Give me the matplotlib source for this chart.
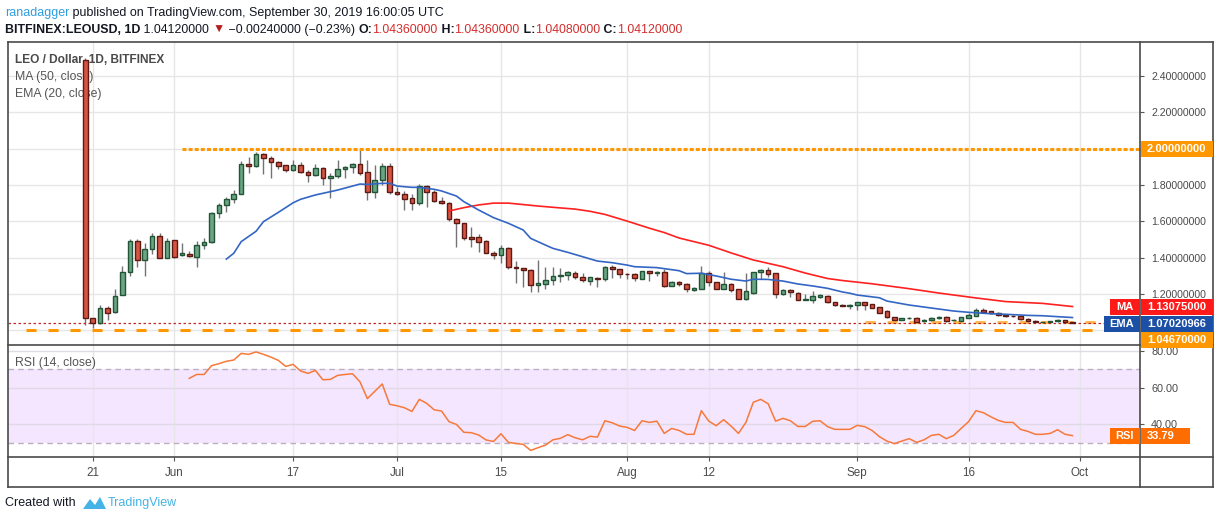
import numpy as np
import pandas as pd
import matplotlib
matplotlib.use('Agg')
import matplotlib.pyplot as plt
from matplotlib.patches import Rectangle, Polygon
from matplotlib.lines import Line2D

plt.rcParams['font.family'] = ['Liberation Sans', 'DejaVu Sans']

# daily candles LEO/USD, Bitfinex, 2019-05-20 .. 2019-09-30
start = '2019-05-20'
dates = pd.date_range(start, '2019-09-30', freq='D')

opens = [2.49, 1.066, 1.04, 1.12, 1.10, 1.195, 1.32, 1.49, 1.385, 1.45,
         1.52, 1.40, 1.495, 1.413, 1.42, 1.405, 1.468, 1.484, 1.644, 1.69,
         1.72, 1.75, 1.914, 1.907, 1.969, 1.947, 1.928, 1.91, 1.88, 1.908,
         1.87, 1.853, 1.892, 1.836, 1.847, 1.886, 1.897, 1.914, 1.869, 1.764,
         1.825, 1.902, 1.759, 1.748, 1.726, 1.699, 1.792, 1.764, 1.711, 1.70,
         1.611, 1.589, 1.512, 1.512, 1.49, 1.424, 1.413, 1.451, 1.349, 1.341,
         1.33, 1.248, 1.253, 1.275, 1.297, 1.302, 1.313, 1.293, 1.273, 1.288,
         1.284, 1.346, 1.335, 1.312, 1.308, 1.284, 1.324, 1.316, 1.32, 1.246,
         1.266, 1.253, 1.224, 1.229, 1.316, 1.264, 1.229, 1.253, 1.226, 1.171,
         1.204, 1.319, 1.33, 1.314, 1.20, 1.222, 1.204, 1.166, 1.169, 1.185,
         1.187, 1.154, 1.139, 1.134, 1.137, 1.154, 1.143, 1.128, 1.106, 1.071,
         1.058, 1.066, 1.068, 1.05, 1.055, 1.065, 1.073, 1.054, 1.052, 1.07,
         1.08, 1.112, 1.106, 1.095, 1.086, 1.079, 1.079, 1.062, 1.051, 1.045,
         1.043, 1.049, 1.056, 1.0436]
highs = [2.50, 1.066, 1.14, 1.135, 1.227, 1.354, 1.50, 1.50, 1.48, 1.537,
         1.537, 1.506, 1.497, 1.48, 1.436, 1.493, 1.51, 1.65, 1.70, 1.735,
         1.77, 1.93, 1.955, 1.983, 1.975, 1.96, 1.93, 1.912, 1.94, 1.926,
         1.882, 1.915, 1.90, 1.867, 1.94, 1.904, 1.92, 1.996, 1.94, 1.91,
         1.919, 1.919, 1.79, 1.766, 1.753, 1.805, 1.80, 1.772, 1.735, 1.708,
         1.618, 1.592, 1.567, 1.528, 1.497, 1.438, 1.47, 1.46, 1.382, 1.345,
         1.336, 1.387, 1.35, 1.35, 1.343, 1.326, 1.325, 1.317, 1.295, 1.292,
         1.353, 1.36, 1.34, 1.316, 1.314, 1.328, 1.328, 1.326, 1.34, 1.272,
         1.273, 1.259, 1.24, 1.353, 1.328, 1.268, 1.319, 1.26, 1.229, 1.314,
         1.322, 1.336, 1.348, 1.318, 1.227, 1.227, 1.209, 1.20, 1.215, 1.20,
         1.196, 1.156, 1.142, 1.142, 1.156, 1.156, 1.145, 1.13, 1.112, 1.073,
         1.068, 1.074, 1.073, 1.064, 1.072, 1.079, 1.076, 1.063, 1.073, 1.093,
         1.121, 1.125, 1.108, 1.102, 1.089, 1.084, 1.082, 1.07, 1.056, 1.05,
         1.053, 1.06, 1.058, 1.0436]
lows = [1.03, 1.01, 1.035, 1.057, 1.094, 1.195, 1.30, 1.35, 1.30, 1.42,
        1.40, 1.40, 1.40, 1.41, 1.405, 1.35, 1.446, 1.48, 1.62, 1.65,
        1.70, 1.75, 1.867, 1.897, 1.86, 1.84, 1.89, 1.873, 1.875, 1.866,
        1.818, 1.851, 1.80, 1.726, 1.836, 1.84, 1.864, 1.855, 1.717, 1.726,
        1.80, 1.753, 1.745, 1.662, 1.662, 1.69, 1.68, 1.706, 1.694, 1.604,
        1.457, 1.497, 1.46, 1.43, 1.424, 1.394, 1.369, 1.336, 1.262, 1.237,
        1.209, 1.213, 1.228, 1.25, 1.264, 1.277, 1.284, 1.264, 1.25, 1.24,
        1.273, 1.29, 1.29, 1.28, 1.273, 1.283, 1.273, 1.30, 1.24, 1.244,
        1.246, 1.211, 1.215, 1.227, 1.246, 1.227, 1.226, 1.211, 1.17, 1.164,
        1.20, 1.28, 1.295, 1.18, 1.195, 1.185, 1.166, 1.164, 1.152, 1.176,
        1.152, 1.135, 1.132, 1.117, 1.112, 1.11, 1.123, 1.095, 1.07, 1.056,
        1.056, 1.064, 1.044, 1.048, 1.052, 1.062, 1.046, 1.046, 1.05, 1.068,
        1.078, 1.10, 1.091, 1.08, 1.075, 1.074, 1.058, 1.045, 1.04, 1.04,
        1.041, 1.047, 1.042, 1.0408]
closes = [1.066, 1.04, 1.12, 1.095, 1.19, 1.32, 1.49, 1.385, 1.45, 1.52,
          1.40, 1.49, 1.405, 1.425, 1.407, 1.468, 1.484, 1.644, 1.69, 1.72,
          1.75, 1.914, 1.907, 1.969, 1.947, 1.928, 1.906, 1.88, 1.908, 1.87,
          1.853, 1.892, 1.837, 1.847, 1.886, 1.897, 1.914, 1.867, 1.764, 1.825,
          1.902, 1.759, 1.748, 1.724, 1.699, 1.792, 1.763, 1.709, 1.702, 1.611,
          1.589, 1.506, 1.505, 1.488, 1.427, 1.413, 1.451, 1.347, 1.341, 1.33,
          1.248, 1.259, 1.275, 1.297, 1.304, 1.319, 1.291, 1.275, 1.291, 1.284,
          1.346, 1.335, 1.31, 1.308, 1.286, 1.324, 1.314, 1.322, 1.246, 1.264,
          1.253, 1.229, 1.233, 1.316, 1.264, 1.229, 1.253, 1.222, 1.171, 1.215,
          1.319, 1.33, 1.31, 1.202, 1.222, 1.211, 1.169, 1.173, 1.187, 1.194,
          1.154, 1.137, 1.135, 1.138, 1.154, 1.141, 1.125, 1.097, 1.071, 1.058,
          1.066, 1.070, 1.048, 1.058, 1.066, 1.073, 1.053, 1.056, 1.071, 1.084,
          1.112, 1.102, 1.093, 1.082, 1.077, 1.077, 1.06, 1.051, 1.044, 1.047,
          1.051, 1.056, 1.044, 1.0412]

# MA(50) and EMA(20) (day index, value)
ma_days = [49, 51, 53, 55, 57, 59, 61, 63, 66, 68, 70, 73, 76, 78, 80, 84, 87,
           90, 94, 97, 100, 102, 106, 111, 115, 120, 124, 129, 133]
ma_vals = [1.657, 1.675, 1.690, 1.700, 1.700, 1.692, 1.684, 1.677, 1.667, 1.655,
           1.638, 1.601, 1.562, 1.538, 1.508, 1.468, 1.426, 1.387, 1.350, 1.315,
           1.285, 1.274, 1.256, 1.229, 1.205, 1.178, 1.158, 1.148, 1.13075]
ema_days = [19, 20, 21, 23, 24, 26, 28, 29, 31, 34, 36, 37, 38, 40, 41, 42, 44,
            45, 47, 48, 50, 51, 53, 55, 57, 59, 60, 62, 63, 65, 67, 69, 71, 73,
            74, 77, 80, 81, 83, 85, 87, 89, 90, 92, 94, 96, 98, 100, 102, 103,
            104, 107, 108, 111, 113, 115, 117, 119, 122, 124, 127, 129, 131, 133]
ema_vals = [1.392, 1.424, 1.488, 1.545, 1.598, 1.649, 1.702, 1.721, 1.745, 1.772,
            1.794, 1.805, 1.803, 1.809, 1.809, 1.794, 1.787, 1.787, 1.776, 1.767,
            1.739, 1.708, 1.662, 1.620, 1.589, 1.552, 1.506, 1.469, 1.451, 1.429,
            1.405, 1.381, 1.372, 1.359, 1.350, 1.345, 1.328, 1.312, 1.314, 1.299,
            1.281, 1.271, 1.281, 1.280, 1.271, 1.255, 1.244, 1.231, 1.211, 1.204,
            1.194, 1.179, 1.161, 1.139, 1.128, 1.117, 1.106, 1.099, 1.091, 1.088,
            1.082, 1.080, 1.075, 1.07020966]

# RSI(14), first value on day index 14
rsi_vals = [65.1, 67.2, 67.2, 72.0, 73.1, 74.4, 75.1, 78.7, 78.2, 79.5,
            78.2, 76.7, 74.9, 71.6, 72.7, 69.1, 67.8, 69.4, 64.3, 64.5,
            66.7, 67.2, 67.6, 63.2, 54.0, 58.0, 62.0, 50.9, 50.1, 49.0,
            47.0, 53.6, 51.4, 47.9, 47.2, 41.4, 39.9, 35.6, 35.4, 34.1,
            31.4, 30.6, 34.8, 30.1, 29.5, 29.0, 25.7, 27.2, 28.6, 31.5,
            32.3, 34.3, 32.6, 31.5, 33.4, 33.0, 41.9, 40.8, 39.0, 38.3,
            36.6, 41.9, 41.0, 41.7, 35.0, 37.7, 36.6, 34.5, 34.5, 47.4,
            41.7, 39.2, 42.5, 39.0, 35.0, 41.0, 52.0, 53.6, 51.2, 41.7,
            43.2, 41.9, 38.8, 38.8, 41.6, 41.9, 38.7, 37.2, 37.2, 37.2,
            39.4, 38.7, 36.6, 33.2, 30.8, 29.4, 30.8, 32.1, 30.1, 31.5,
            33.9, 34.5, 32.1, 33.9, 37.7, 41.4, 47.4, 46.3, 44.1, 42.1,
            41.0, 41.0, 37.2, 36.1, 34.5, 34.5, 35.0, 37.0, 34.5, 33.79]
rsi_start = 14

tick_dates = ['2019-05-21', '2019-06-01', '2019-06-17', '2019-07-01', '2019-07-15',
              '2019-08-01', '2019-08-12', '2019-09-01', '2019-09-16', '2019-10-01']
tick_labels = ['21', 'Jun', '17', 'Jul', '15', 'Aug', '12', 'Sep', '16', 'Oct']

price_ticks = [1.0, 1.2, 1.4, 1.6, 1.8, 2.0, 2.2, 2.4]
resistance = 2.0
support = 1.0
support2 = 1.0467

W, H = 1218, 521
fig = plt.figure(figsize=(W / 100, H / 100), dpi=100)


def fx(px):
    return px / W


def fy(py):
    return 1 - py / H


ax = fig.add_axes([fx(8), fy(345), fx(1140) - fx(8), fy(42) - fy(345)])
ax2 = fig.add_axes([fx(8), fy(457), fx(1140) - fx(8), fy(345) - fy(457)])

o, h, l, c = map(np.array, (opens, highs, lows, closes))
x = np.arange(len(dates))
day = lambda d: (pd.Timestamp(d) - pd.Timestamp(start)).days
xlo, xhi = -10.42, 142.1
ylo, yhi = 0.919, 2.587

# grid
tpos = [day(d) for d in tick_dates]
for a in (ax, ax2):
    a.set_xlim(xlo, xhi)
    for t in tpos:
        a.axvline(t, color='#e6e6e6', lw=1, zorder=0.3)
    for s in a.spines.values():
        s.set_visible(False)
for p in price_ticks:
    ax.axhline(p, color='#e6e6e6', lw=1, zorder=0.3)
ax.set_ylim(ylo, yhi)

# candles
up = c >= o
ax.vlines(x, l, h, color='#737375', lw=1, zorder=2)
ax.bar(x[up], (c - o)[up], bottom=o[up], width=0.62, color='#6ba583',
       edgecolor='#225437', lw=1, zorder=3)
ax.bar(x[~up], (o - c)[~up], bottom=c[~up], width=0.62, color='#d75442',
       edgecolor='#5b1a13', lw=1, zorder=3)

ax.plot(ma_days, ma_vals, color='#ff2020', lw=1.2, zorder=4)
ax.plot(ema_days, ema_vals, color='#3366c4', lw=1.2, zorder=4)

# drawn levels
ax.hlines(resistance, day('2019-06-02'), xhi, color='#ff9800', lw=2.2,
          linestyles=[(0, (1.3, 0.7))], zorder=2.5)
ax.hlines(support, day('2019-05-12'), xhi, color='#ff9800', lw=2.2,
          linestyles=[(0, (3.3, 3.9))], zorder=2.5)
ax.hlines(support2, day('2019-09-02'), xhi, color='#ffad33', lw=2.2,
          linestyles=[(0, (3.3, 3.9))], zorder=2.5, alpha=0.85)
ax.axhline(c[-1], color='#c62828', lw=0.9, ls=(0, (2, 2)), zorder=2.6)

ax.yaxis.tick_right()
ax.set_yticks(price_ticks)
ax.set_yticklabels(['' if p in (1.0, 2.0) else f'{p:.8f}' for p in price_ticks])
ax.tick_params(axis='y', length=3, pad=5, color='#555555', labelcolor='#4a4a4a',
               labelsize=7.6)
ax.tick_params(axis='x', bottom=False, labelbottom=False)

# legend texts sit under the candles, as on the original
ax.text(7 / 1132, 1 - 18 / 303, 'LEO / Dollar, 1D, BITFINEX', transform=ax.transAxes,
        fontsize=8.6, color='#4a4a4a', va='center', fontweight='bold', zorder=1)
ax.text(7 / 1132, 1 - 35 / 303, 'MA (50, close)', transform=ax.transAxes,
        fontsize=8.8, color='#555555', va='center', zorder=1)
ax.text(7 / 1132, 1 - 52 / 303, 'EMA (20, close)', transform=ax.transAxes,
        fontsize=8.8, color='#555555', va='center', zorder=1)

# RSI pane
rx = np.arange(rsi_start, rsi_start + len(rsi_vals))
ax2.set_ylim(22.1, 83.3)
ax2.fill_between([xlo, xhi], 30, 70, color='#f4e6fe', zorder=0.1, lw=0)
for v in (40, 60, 80):
    ax2.axhline(v, color='#e0dae6', lw=1, zorder=0.3)
for v in (30, 70):
    ax2.axhline(v, color='#b9b0c2', lw=1, ls=(0, (4, 3)), zorder=0.4)
ax2.plot(rx, rsi_vals, color='#f7793a', lw=1.1, zorder=3)
ax2.yaxis.tick_right()
ax2.set_yticks([40, 60, 80])
ax2.set_yticklabels(['40.00', '60.00', '80.00'])
ax2.tick_params(axis='y', length=3, pad=5, color='#555555', labelcolor='#4a4a4a',
                labelsize=7.8)
ax2.set_xticks(tpos)
ax2.set_xticklabels(tick_labels)
ax2.tick_params(axis='x', length=3, pad=4, color='#555555', labelcolor='#4a4a4a',
                labelsize=8.4)
ax2.text(7 / 1132, 1 - 18 / 112, 'RSI (14, close)', transform=ax2.transAxes,
         fontsize=8.8, color='#555555', va='center')


# frame
def fline(x0, y0, x1, y1, color='#4a4a4a', lw=1.2):
    fig.add_artist(Line2D([fx(x0), fx(x1)], [fy(y0), fy(y1)], color=color, lw=lw))


fline(8, 42, 1213, 42)
fline(8, 487, 1213, 487)
fline(8, 42, 8, 487)
fline(1213, 42, 1213, 487)
fline(1140, 42, 1140, 487)
fline(8, 345, 1213, 345)
fline(8, 457, 1213, 457)


def py_price(p):
    return 345 - (p - ylo) / (yhi - ylo) * 303


def py_rsi(v):
    return 457 - (v - 22.1) / (83.3 - 22.1) * 112


def tag(yc, x0, x1, text, bg, size=8, hgt=16, ha='center'):
    fig.add_artist(Rectangle((fx(x0), fy(yc + hgt / 2)), (x1 - x0) / W, hgt / H,
                             transform=fig.transFigure, facecolor=bg,
                             edgecolor='none', zorder=5))
    tx = (x0 + x1) / 2 if ha == 'center' else x0 + 6
    fig.text(fx(tx), fy(yc), text, color='white', fontsize=size, ha=ha,
             va='center', zorder=6, fontweight='bold')


tag(py_price(resistance), 1141, 1213, f'{resistance:.8f}', '#ff9800', ha='left')
tag(py_price(ma_vals[-1]), 1110, 1140, 'MA', '#ff1a1a')
tag(py_price(ma_vals[-1]), 1141, 1213, f'{ma_vals[-1]:.8f}', '#ff1a1a', ha='left')
y_ema = py_price(ema_vals[-1]) + 6
tag(y_ema, 1104, 1140, 'EMA', '#1c4fa6')
tag(y_ema, 1141, 1213, f'{ema_vals[-1]:.8f}', '#1c4fa6', ha='left')
tag(y_ema + 16, 1141, 1213, f'{support2:.8f}', '#ff9800', ha='left')
tag(py_rsi(rsi_vals[-1]), 1110, 1140, 'RSI', '#ff6d00')
tag(py_rsi(rsi_vals[-1]), 1141, 1190, f'{rsi_vals[-1]:.2f}', '#ff6d00', ha='left')

# header
renderer = fig.canvas.get_renderer()


def chain(parts, x0, yc, size):
    xx = x0
    for s, color, weight in parts:
        t = fig.text(fx(xx), fy(yc), s, color=color, fontsize=size,
                     fontweight=weight, va='center', ha='left')
        xx += t.get_window_extent(renderer=renderer).width


red = '#d32f2f'
chain([('ranadagger', '#2f9ede', 'normal'),
       (' published on TradingView.com, September 30, 2019 16:00:05 UTC', '#131722', 'normal')],
      5, 13, 9)
chain([('BITFINEX:LEOUSD, 1D', '#131722', 'bold'),
       (' 1.04120000 ', '#131722', 'normal'),
       ('\u25bc', '#b71c1c', 'normal'),
       (' \u22120.00240000 (\u22120.23%) ', '#131722', 'normal'),
       ('O:', '#131722', 'bold'), ('1.04360000', red, 'normal'),
       (' H:', '#131722', 'bold'), ('1.04360000', red, 'normal'),
       (' L:', '#131722', 'bold'), ('1.04080000', red, 'normal'),
       (' C:', '#131722', 'bold'), ('1.04120000', red, 'normal')],
      5, 30, 8.9)

# footer
fig.text(fx(5), fy(503), 'Created with', fontsize=9, color='#131722', va='center')
fig.add_artist(Polygon([(fx(83), fy(509)), (fx(90), fy(499)), (fx(95), fy(505)),
                        (fx(100), fy(497)), (fx(106), fy(509))],
                       closed=True, transform=fig.transFigure, facecolor='#46b3e6',
                       edgecolor='none'))
fig.text(fx(108), fy(503), 'TradingView', fontsize=9, color='#46b3e6', va='center')

fig.savefig('out.png', dpi=100, facecolor='white')
